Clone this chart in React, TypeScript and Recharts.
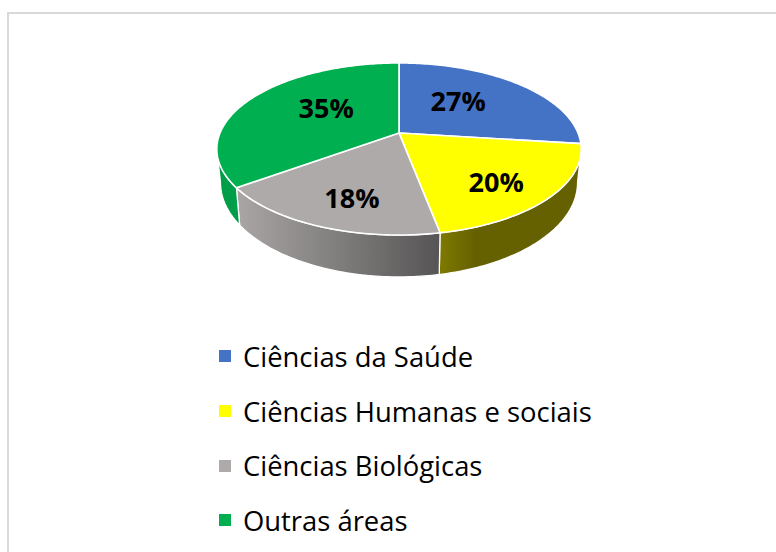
import { PieChart, Pie, Legend } from "recharts";

const categories = ["Ciências da Saúde", "Ciências Humanas e sociais", "Ciências Biológicas", "Outras áreas"];
const shares = [27, 20, 18, 35];
const colors = ["#4472C4", "#FFFF00", "#AEAAAA", "#00B050"];
const wallStops = [
  ["#2F5597", "#2F5597"],
  ["#7F7A00", "#666100"],
  ["#AAA6A6", "#565454"],
  ["#009E48", "#009E48"],
];

const tableData = categories.map((name, i) => ({ name, value: shares[i], fill: colors[i] }));

// perspective of the tilted disc, fitted by eye to the picture
const TILT = 0.464;
const PERSPECTIVE = 0.186;
const BASE_WIDTH = 0.98;
const BASE_TILT = 0.509;
const BASE_DROP = 32;
// angles (clockwise from 12 o'clock) between which the side wall can be seen
const WALL_FROM = 100.7;
const WALL_TO = 259.3;

const labelNudges = [
  [-10, -4],
  [20, 15],
  [-7, 18],
  [11, -6],
];

const rad = (d: number) => (d * Math.PI) / 180;

function topPoint(cx: number, cy: number, R: number, deg: number, r = 1) {
  const w = 1 + r * PERSPECTIVE * Math.cos(rad(deg));
  return [cx + (r * R * Math.sin(rad(deg))) / w, cy - (r * R * TILT * Math.cos(rad(deg))) / w];
}

function basePoint(cx: number, cy: number, R: number, deg: number) {
  const w = 1 + PERSPECTIVE * Math.cos(rad(deg));
  return [cx + (R * BASE_WIDTH * Math.sin(rad(deg))) / w, cy + BASE_DROP - (R * BASE_TILT * Math.cos(rad(deg))) / w];
}

function arc(fn: (deg: number) => number[], from: number, to: number) {
  const steps = Math.max(2, Math.ceil(Math.abs(to - from)));
  const pts = [];
  for (let i = 0; i <= steps; i++) pts.push(fn(from + ((to - from) * i) / steps));
  return pts;
}

const toPath = (pts: number[][]) => pts.map((p, i) => `${i ? "L" : "M"}${p[0].toFixed(2)} ${p[1].toFixed(2)}`).join(" ");

function DiscSlice(props: any) {
  const { cx, cy, outerRadius, startAngle, endAngle, fill, index } = props;
  const from = 90 - startAngle;
  const to = 90 - endAngle;
  const wallA = Math.max(from, WALL_FROM);
  const wallB = Math.min(to, WALL_TO);
  const top = arc((d) => topPoint(cx, cy, outerRadius, d), from, to);
  const hasWall = wallB > wallA;
  return (
    <g>
      {hasWall && (
        <>
          <defs>
            <linearGradient id={`wall-${index}`} x1="0" y1="0" x2="1" y2="0">
              <stop offset="0" stopColor={wallStops[index][0]} />
              <stop offset={index === 1 ? "0.25" : "1"} stopColor={wallStops[index][1]} />
            </linearGradient>
          </defs>
          <path
            d={
              toPath([
                ...arc((d) => topPoint(cx, cy, outerRadius, d), wallA, wallB),
                ...arc((d) => basePoint(cx, cy, outerRadius, d), wallB, wallA),
              ]) + " Z"
            }
            fill={`url(#wall-${index})`}
            stroke="#ffffff"
            strokeWidth={1.3}
            strokeLinejoin="round"
          />
        </>
      )}
      <path d={`M${cx} ${cy} ${toPath(top).replace("M", "L")} Z`} fill={fill} stroke="#ffffff" strokeWidth={1.6} strokeLinejoin="round" />
    </g>
  );
}

function SliceLabel(props: any) {
  const { cx, cy, outerRadius, midAngle, index, value } = props;
  const p = topPoint(cx, cy, outerRadius, 90 - midAngle, 0.55);
  return (
    <text
      x={p[0] + labelNudges[index][0]}
      y={p[1] + labelNudges[index][1]}
      textAnchor="middle"
      dominantBaseline="central"
      fontFamily="'Open Sans', sans-serif"
      fontWeight={700}
      fontSize={27}
      fill="#000000"
    >
      {value}%
    </text>
  );
}

function LegendList({ payload }: any) {
  return (
    <div>
      {(payload || []).map((item: any) => (
        <div key={item.value} style={{ display: "flex", alignItems: "center", height: 54.7, whiteSpace: "nowrap" }}>
          <span style={{ width: 12, height: 12, background: item.color, marginRight: 12, flexShrink: 0 }} />
          <span style={{ fontFamily: "'Open Sans', sans-serif", fontSize: 27.4, color: "#000000" }}>{item.value}</span>
        </div>
      ))}
    </div>
  );
}

export default function App() {
  return (
    <div style={{ position: "absolute", left: 0, top: 0, width: 776, height: 552, background: "#ffffff", overflow: "hidden" }}>
      <div style={{ position: "absolute", left: 7, top: 12, right: 0, bottom: 0, borderTop: "2px solid #D9D9D9", borderLeft: "2px solid #D9D9D9" }} />
      <PieChart width={776} height={552} margin={{ top: 0, right: 0, bottom: 0, left: 0 }} style={{ position: "absolute", left: 0, top: 0 }}>
        <Pie
          data={tableData}
          dataKey="value"
          nameKey="name"
          cx={399}
          cy={133}
          outerRadius={179}
          startAngle={90}
          endAngle={-270}
          paddingAngle={0}
          isAnimationActive={false}
          shape={DiscSlice}
          label={SliceLabel}
          labelLine={false}
        />
        <Legend
          layout="vertical"
          content={LegendList}
          itemSorter={null}
          wrapperStyle={{ position: "absolute", left: 219, top: 329, width: 400, bottom: "auto" }}
        />
      </PieChart>
    </div>
  );
}
